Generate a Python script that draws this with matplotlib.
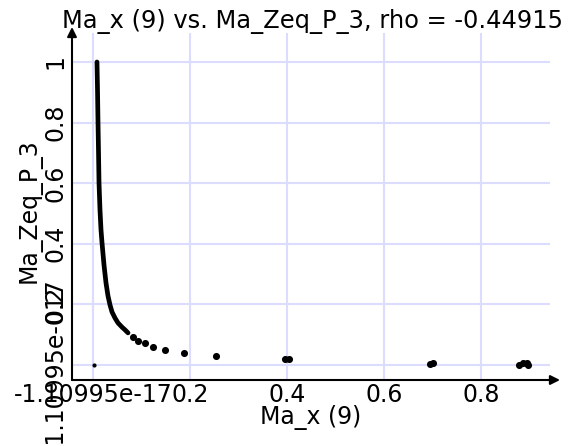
import matplotlib
matplotlib.use("Agg")
import matplotlib.pyplot as plt

# dense part of the curve
curve_x = [0.0082, 0.0093, 0.0103, 0.0113, 0.0124, 0.0144, 0.0165, 0.0186, 0.0227,
           0.0268, 0.0309, 0.0351, 0.0392, 0.0454, 0.0515, 0.0598, 0.0660, 0.0722]
curve_y = [1.0, 0.908, 0.802, 0.710, 0.601, 0.512, 0.446, 0.403, 0.330,
           0.271, 0.228, 0.198, 0.175, 0.155, 0.139, 0.125, 0.116, 0.106]

# isolated samples in the tail
tail_x = [0.082, 0.093, 0.107, 0.124, 0.148, 0.188, 0.254, 0.396, 0.404,
          0.695, 0.701, 0.878, 0.887, 0.895, 0.897]
tail_y = [0.092, 0.079, 0.073, 0.059, 0.050, 0.040, 0.030, 0.020, 0.020,
          0.003, 0.007, 0.000, 0.007, 0.007, 0.000]

origin_x = [0.002]
origin_y = [0.0]

zero_val = -1.10995e-17
x_ticks = [zero_val, 0.2, 0.4, 0.6, 0.8]
x_labels = ["-1.10995e-17", "0.2", "0.4", "0.6", "0.8"]
y_ticks = [zero_val, 0.2, 0.4, 0.6, 0.8, 1.0]
y_labels = ["-1.10995e-017", "0.2", "0.4", "0.6", "0.8", "1"]

rho = -0.44915
title = "Ma_x (9) vs. Ma_Zeq_P_3, rho = %.5f" % rho

plt.rcParams['font.family'] = ['DejaVu Sans']
fs = 17

fig = plt.figure(figsize=(5.75, 4.46), dpi=100)
ax = fig.add_axes([72 / 575, 66 / 446, 478 / 575, 347 / 446])

ax.plot(curve_x, curve_y, color='k', lw=3.4, solid_capstyle='round', zorder=3)
ax.scatter(tail_x, tail_y, s=26, color='k', lw=0, zorder=3)
ax.scatter(origin_x, origin_y, s=9, color='k', lw=0, zorder=3)

ax.set_xlim(-0.0433, 0.9423)
ax.set_ylim(-0.0495, 1.0957)

ax.set_xticks(x_ticks)
ax.set_xticklabels(x_labels, fontsize=fs)
ax.set_yticks(y_ticks)
ax.set_yticklabels(y_labels, fontsize=fs, rotation=90, va='center')
ax.tick_params(length=0)
ax.tick_params(axis='x', pad=2)
ax.tick_params(axis='y', pad=3)

ax.grid(True, color='#dcdcff', lw=1.5)
ax.set_axisbelow(True)
for s in ax.spines.values():
    s.set_visible(False)

# axes drawn as arrows
arrow = dict(arrowstyle='-|>', color='k', lw=1.5, mutation_scale=14,
             shrinkA=0, shrinkB=0)
ax.annotate('', xy=(1 + 10 / 478, 0), xytext=(0, 0), xycoords='axes fraction',
            arrowprops=arrow, annotation_clip=False)
ax.annotate('', xy=(0, 1 + 6 / 347), xytext=(0, 0), xycoords='axes fraction',
            arrowprops=arrow, annotation_clip=False)

ax.set_xlabel("Ma_x (9)", fontsize=fs)
ax.xaxis.set_label_coords(0.5, -0.072)
ax.set_ylabel("Ma_Zeq_P_3", fontsize=fs)
ax.yaxis.set_label_coords(-0.063, 0.487)

fig.text(312 / 575, 1 - 28 / 446, title, fontsize=17.4, ha='center', va='baseline')

fig.savefig("out.png", dpi=100)
